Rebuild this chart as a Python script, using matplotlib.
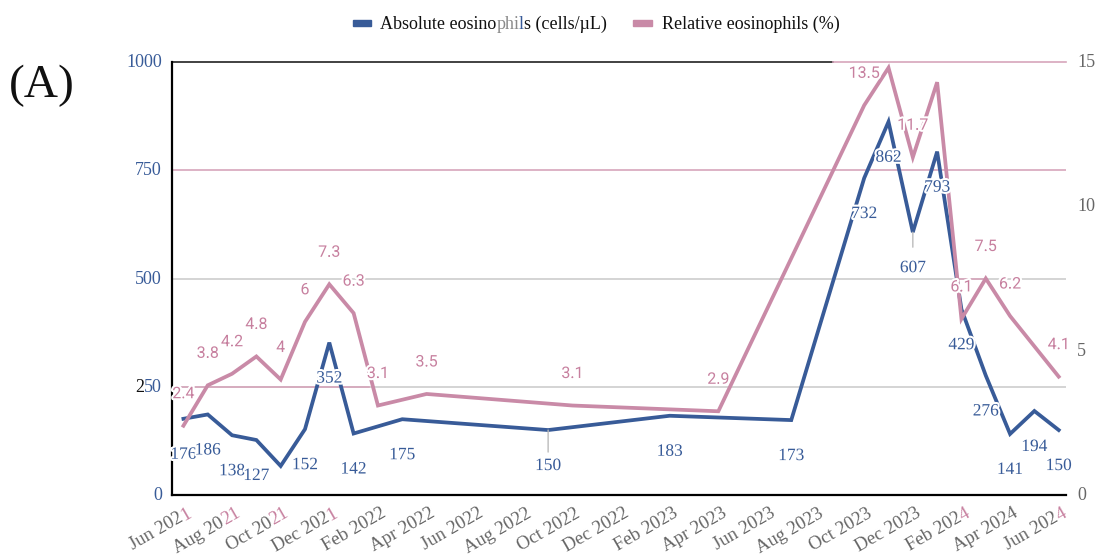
import math
import matplotlib
matplotlib.use("Agg")
import matplotlib.pyplot as plt
import matplotlib.patheffects as pe
from matplotlib.patches import Rectangle
from matplotlib.font_manager import FontProperties
from matplotlib.transforms import ScaledTranslation, blended_transform_factory
import pandas as pd

# absolute eosinophil counts (cells/uL)
abs_dates = ["2021-06", "2021-07", "2021-08", "2021-09", "2021-10", "2021-11",
             "2021-12", "2022-01", "2022-03", "2022-09", "2023-02", "2023-07",
             "2023-10", "2023-11", "2023-12", "2024-01", "2024-02", "2024-03",
             "2024-04", "2024-05", "2024-06"]
abs_vals = [176, 186, 138, 127, 67, 152, 352, 142, 175, 150, 183, 173,
            732, 862, 607, 793, 429, 276, 141, 194, 150]
abs_shown = [True, True, True, True, False, True, True, True, True, True, True,
             True, True, True, True, True, True, True, True, True, True]

# relative eosinophils (%)
rel_dates = ["2021-06", "2021-07", "2021-08", "2021-09", "2021-10", "2021-11",
             "2021-12", "2022-01", "2022-02", "2022-04", "2022-10", "2023-04",
             "2023-10", "2023-11", "2023-12", "2024-01", "2024-02", "2024-03",
             "2024-04", "2024-06"]
rel_vals = [2.4, 3.8, 4.2, 4.8, 4.0, 6.0, 7.3, 6.3, 3.1, 3.5, 3.1, 2.9,
            13.5, 14.8, 11.7, 14.3, 6.1, 7.5, 6.2, 4.1]
rel_shown = [True, True, True, True, True, True, True, True, True, True, True,
             True, True, False, True, False, True, True, True, True]

left_ticks = [0, 250, 500, 750, 1000]
right_ticks = [0, 5, 10, 15]
# odd colouring of some tick label endings in the original
pink_tail = {"Jun 2021": "1", "Aug 2021": "21", "Oct 2021": "21",
             "Dec 2021": "1", "Feb 2024": "4", "Jun 2024": "4"}

BLUE = "#385b98"
PINK = "#c98aa7"
PINK_TXT = "#c7809f"
PINK_GRID = "#d7a6bb"
GRAY_GRID = "#cdcdcd"
GRAY_TXT = "#666666"
BLACK = "#111111"
SERIF = "Liberation Serif"

W, H = 1095, 557
START = pd.Period("2021-06", freq="M")


def month_index(d):
    return (pd.Period(d, freq="M") - START).n


def px(dx, dy):
    """offset in screen pixels (dpi is 100)"""
    return ScaledTranslation(dx / 100, dy / 100, fig.dpi_scale_trans)


def text_w(s, fp):
    return renderer.get_text_width_height_descent(s, fp, ismath=False)[0]


def advance(s, fp):
    return text_w("|" + s + "|", fp) - text_w("||", fp)


def multicolor(parent, x, y, base_tr, parts, fp, dx=0, dy=0, angle=0,
               align="left", **kw):
    """draw a string made of coloured pieces, baseline anchored"""
    full = "".join(s for s, _ in parts)
    ca, sa = math.cos(math.radians(angle)), math.sin(math.radians(angle))
    pos = 0.0
    if align == "right":
        pos = -text_w(full, fp)
    for s, col in parts:
        parent.text(x, y, s, transform=base_tr + px(dx + pos * ca, dy + pos * sa),
                    rotation=angle, rotation_mode="anchor", ha="left",
                    va="baseline", color=col, fontproperties=fp, **kw)
        pos += advance(s, fp)


abs_x = [month_index(d) for d in abs_dates]
rel_x = [month_index(d) for d in rel_dates]
tick_periods = [START + i for i in range(0, 37, 2)]

fig = plt.figure(figsize=(W / 100, H / 100), dpi=100)
renderer = fig.canvas.get_renderer()
ax = fig.add_axes([172 / W, 62 / H, 894 / W, 433 / H])
ax.set_xlim(-0.47, 36.3)
ax.set_ylim(0, 1000)
ax2 = ax.twinx()
ax2.set_ylim(0, 15)

for a in (ax, ax2):
    a.set_xticks([])
    a.set_yticks([])
    for s in a.spines.values():
        s.set_visible(False)
ax.spines["left"].set_visible(True)
ax.spines["bottom"].set_visible(True)
ax.spines["left"].set_linewidth(1.6)
ax.spines["bottom"].set_linewidth(1.6)

# gridlines (with the patchy colours of the original)
ax.axhline(250, color=GRAY_GRID, lw=1.2, zorder=0.5)
ax.axhline(250, xmax=0.22, color=PINK_GRID, lw=1.2, zorder=0.6)
ax.axhline(500, color=GRAY_GRID, lw=1.2, zorder=0.5)
ax.axhline(500, xmin=0.877, xmax=0.907, color=PINK_GRID, lw=1.2, zorder=0.6)
ax.axhline(750, color=PINK_GRID, lw=1.2, zorder=0.5)
ax.axhline(1000, xmax=0.739, color="#333333", lw=1.3, clip_on=False)
ax.axhline(1000, xmin=0.739, color=PINK_GRID, lw=1.2, clip_on=False)

ax.plot(abs_x, abs_vals, color=BLUE, lw=2.7, solid_joinstyle="miter", zorder=2)
ax2.plot(rel_x, rel_vals, color=PINK, lw=2.7, solid_joinstyle="miter", zorder=2)

halo = [pe.withStroke(linewidth=3, foreground="white")]

# leader lines under a couple of labels
for d, ln in [("2022-09", 22), ("2023-12", 15)]:
    i = abs_dates.index(d)
    ax.annotate("", xy=(abs_x[i], abs_vals[i]), xytext=(0, -ln),
                textcoords="offset pixels",
                arrowprops=dict(arrowstyle="-", color="#bbbbbb", lw=1,
                                shrinkA=0, shrinkB=0))

for x, v, show in zip(abs_x, abs_vals, abs_shown):
    if show:
        ax2.annotate(str(v), xy=(x, v), xycoords=ax.transData,
                     xytext=(0, -36), textcoords="offset pixels",
                     ha="center", va="center", color=BLUE, fontsize=12.5,
                     family=SERIF, path_effects=halo, zorder=5)

for x, v, show in zip(rel_x, rel_vals, rel_shown):
    if show:
        ax2.annotate(f"{v:g}", xy=(x, v), xytext=(0, 32),
                     textcoords="offset pixels", ha="center", va="center",
                     color=PINK_TXT, fontsize=11.5, family="Roboto",
                     path_effects=halo, zorder=5)

# y tick labels
tick_fp = FontProperties(family=SERIF, size=13)
ytr = blended_transform_factory(ax.transAxes, ax.transData)
for v in left_ticks:
    lab = str(v)
    if v == 250:
        parts = [(lab[0], BLACK), (lab[1:], BLUE)]
    else:
        parts = [(lab, BLUE)]
    multicolor(ax, 0, v, ytr, parts, tick_fp, dx=-10, dy=-5, align="right")

ytr2 = blended_transform_factory(ax2.transAxes, ax2.transData)
for v in right_ticks:
    multicolor(ax2, 1, v, ytr2, [(str(v), GRAY_TXT)], tick_fp, dx=11, dy=-5)

# x tick labels
xfp = FontProperties(family=SERIF, size=13.5)
xtr = blended_transform_factory(ax.transData, ax.transAxes)
for p in tick_periods:
    m = (p - START).n
    lab = p.strftime("%b %Y")
    tail = pink_tail.get(lab, "")
    parts = [(lab[:len(lab) - len(tail)], GRAY_TXT)]
    if tail:
        parts.append((tail, PINK_TXT))
    multicolor(ax, m, 0, xtr, parts, xfp, dx=9, dy=-21, angle=30,
               align="right", clip_on=False)

# legend drawn by hand to keep the mixed-colour lettering
def fpos(x, y):
    return x / W, 1 - y / H

fig.add_artist(Rectangle(fpos(353, 26), 18 / W, 6 / H, color=BLUE,
                         transform=fig.transFigure))
fig.add_artist(Rectangle(fpos(633, 26), 19 / W, 6 / H, color=PINK,
                         transform=fig.transFigure))
leg_fp = FontProperties(family=SERIF, size=13)
leg1 = [("Absolute eosino", BLACK), ("phi", "#8a8a8a"), ("l", BLUE),
        ("s (cells/\u00b5L)", BLACK)]
multicolor(fig, 0, 0, fig.transFigure, leg1, leg_fp, dx=380, dy=H - 29)
multicolor(fig, 0, 0, fig.transFigure, [("Relative eosinophils (%)", BLACK)],
           leg_fp, dx=662, dy=H - 29)

fig.text(*fpos(9, 97), "(A)", ha="left", va="baseline", fontsize=34,
         family=SERIF, color=BLACK)

fig.savefig("out.png", dpi=100)
